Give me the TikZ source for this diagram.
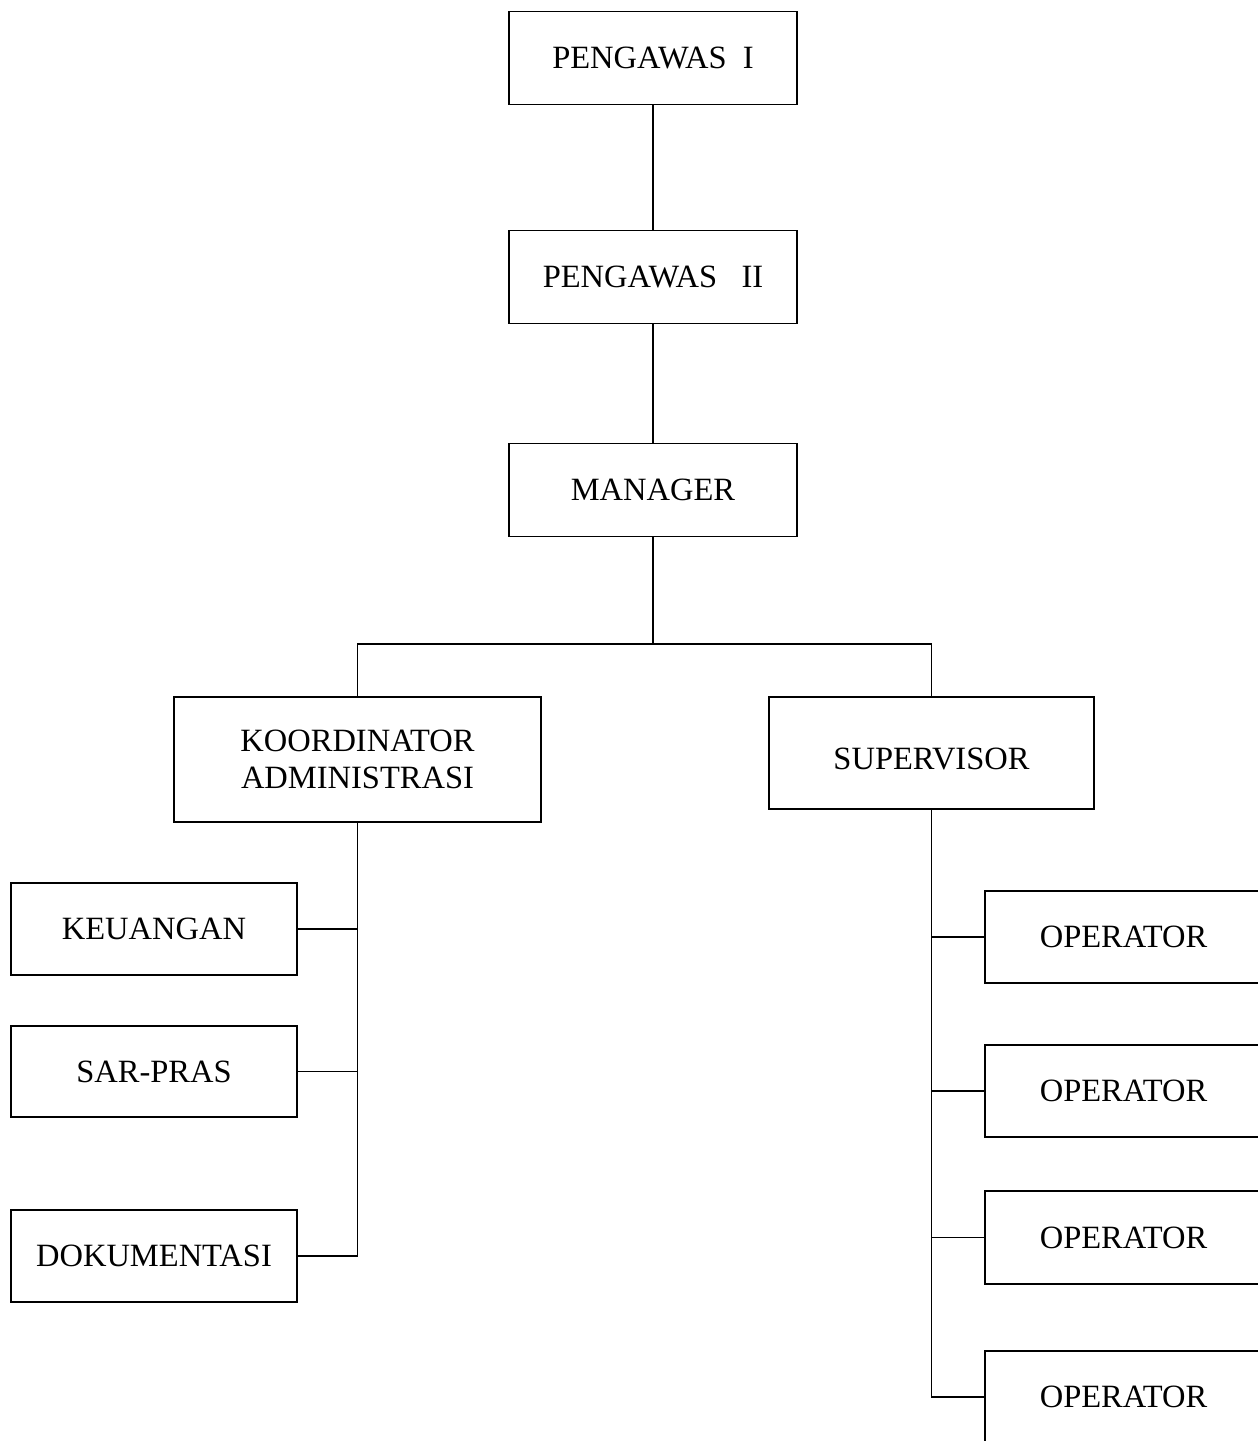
\documentclass[tikz,border=0pt]{standalone}
\usepackage{fontspec}
\setmainfont{Liberation Serif}
\begin{document}
\begin{tikzpicture}[x=0.02cm, y=-0.02cm, line width=1.1pt,
	box/.style={draw, rectangle, inner sep=2pt, align=center, font=\fontsize{18.5}{21}\selectfont}]
	\useasboundingbox (0,0) rectangle (1258,1441);

	\node[box, minimum width=5.76cm, minimum height=1.86cm] at (653, 58)    (P1)  {PENGAWAS\ \ I};
	\node[box, minimum width=5.76cm, minimum height=1.86cm] at (653, 277)   (P2)  {PENGAWAS\ \ \ II};
	\node[box, minimum width=5.76cm, minimum height=1.86cm] at (653, 490)   (MGR) {MANAGER};
	\node[box, minimum width=7.34cm, minimum height=2.5cm]  at (357.5, 759.5) (KA) {KOORDINATOR\\ADMINISTRASI};
	\node[box, minimum width=6.5cm, minimum height=2.24cm, text height=19pt] at (931.5, 753) (SUP) {SUPERVISOR};

	\node[box, minimum width=5.72cm, minimum height=1.84cm] at (154, 929)    (KEU) {KEUANGAN};
	\node[box, minimum width=5.72cm, minimum height=1.82cm] at (154, 1071.5) (SAR) {SAR-PRAS};
	\node[box, minimum width=5.72cm, minimum height=1.84cm] at (154, 1256)   (DOK) {DOKUMENTASI};

	\node[box, minimum width=5.54cm, minimum height=1.84cm] at (1123.5, 937)    (OP1) {OPERATOR};
	\node[box, minimum width=5.54cm, minimum height=1.84cm] at (1123.5, 1091)   (OP2) {OPERATOR};
	\node[box, minimum width=5.54cm, minimum height=1.86cm] at (1123.5, 1237.5) (OP3) {OPERATOR};
	\node[box, minimum width=5.54cm, minimum height=1.84cm] at (1123.5, 1397)   (OP4) {OPERATOR};

	\coordinate (bus) at (653, 644);

	\draw (P1) -- (P2);
	\draw (P2) -- (MGR);
	\draw (MGR) -- (bus);
	\draw (KA.north) |- (bus) -| (SUP.north);

	\draw (KA.south) |- (DOK.east);
	\draw (KEU.east) -- (KEU.east -| KA.south);
	\draw (SAR.east) -- (SAR.east -| KA.south);

	\draw (SUP.south) |- (OP4.west);
	\draw (OP1.west) -- (OP1.west -| SUP.south);
	\draw (OP2.west) -- (OP2.west -| SUP.south);
	\draw (OP3.west) -- (OP3.west -| SUP.south);
\end{tikzpicture}
\end{document}
